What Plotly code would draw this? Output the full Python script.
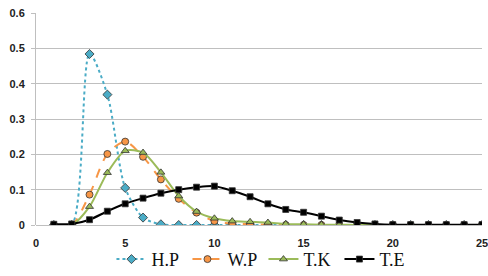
import plotly.graph_objects as go

x = list(range(1, 26))
hp = [0, 0, 0.484, 0.369, 0.105, 0.021, 0.002, 0, 0, 0, 0, 0, 0, 0, 0, 0, 0, 0, 0, 0, 0, 0, 0, 0, 0]
wp = [0, 0, 0.086, 0.201, 0.236, 0.193, 0.129, 0.074, 0.035, 0.011, 0.004, 0.002, 0.001, 0, 0, 0, 0, 0, 0, 0, 0, 0, 0, 0, 0]
tk = [0, 0, 0.052, 0.148, 0.21, 0.205, 0.149, 0.082, 0.038, 0.019, 0.011, 0.009, 0.007, 0.003, 0.002, 0.001, 0.001, 0, 0, 0, 0, 0, 0, 0, 0]
te = [0.002, 0.003, 0.015, 0.039, 0.06, 0.076, 0.09, 0.1, 0.107, 0.11, 0.097, 0.08, 0.06, 0.044, 0.036, 0.025, 0.014, 0.007, 0.003, 0.001, 0.001, 0.001, 0.001, 0.001, 0.001]
x_ticks = [0, 5, 10, 15, 20, 25]
y_ticks = [0, 0.1, 0.2, 0.3, 0.4, 0.5, 0.6]
y_labels = ["0", "0.1", "0.2", "0.3", "0.4", "0.5", "0.6"]

series = [
    ("H.P", hp, "#4BACC6", "dot", "diamond", 7),
    ("W.P", wp, "#F79646", "dash", "circle", 7),
    ("T.K", tk, "#9BBB59", "solid", "triangle-up", 7),
    ("T.E", te, "#000000", "solid", "square", 6),
]

fig = go.Figure()
for name, ys, col, dash, sym, sz in series:
    fig.add_trace(go.Scatter(
        x=x, y=ys, name=name, mode="lines+markers",
        line=dict(color=col, width=2, dash=dash, shape="spline", smoothing=0.8),
        marker=dict(symbol=sym, size=sz, color=col, line=dict(color="#333333", width=0.8)),
    ))

tickfont = dict(family="Liberation Sans", size=11, color="#222222", weight="bold")
fig.update_layout(
    width=488, height=276,
    margin=dict(l=36, r=6, t=13, b=51, autoexpand=False),
    paper_bgcolor="white", plot_bgcolor="white",
    showlegend=True,
    legend=dict(orientation="h", x=0.51, xanchor="center", y=-0.075, yanchor="top",
                bgcolor="rgba(0,0,0,0)",
                font=dict(family="Liberation Serif", size=18, color="#111111"),
                itemwidth=30, entrywidth=31, entrywidthmode="pixels"),
)
fig.update_xaxes(range=[0, 25], tickvals=x_ticks, showgrid=False, automargin=False,
                 zeroline=False, showline=False, ticks="outside", ticklen=8, tickcolor="rgba(0,0,0,0)",
                 tickfont=tickfont, ticklabeloverflow="allow")
fig.update_yaxes(range=[0, 0.6], tickvals=y_ticks, ticktext=y_labels, automargin=False,
                 showgrid=True, gridcolor="#BFBFBF", gridwidth=1,
                 zeroline=True, zerolinecolor="#BFBFBF", zerolinewidth=1,
                 showline=True, linecolor="#BFBFBF", linewidth=1,
                 ticks="outside", ticklen=4, tickcolor="#BFBFBF", ticklabelstandoff=4,
                 tickfont=tickfont, ticklabeloverflow="allow")

fig.write_html("out.html", config={"displayModeBar": False},
               post_script="document.body.style.margin='0';document.body.style.overflow='hidden';")
